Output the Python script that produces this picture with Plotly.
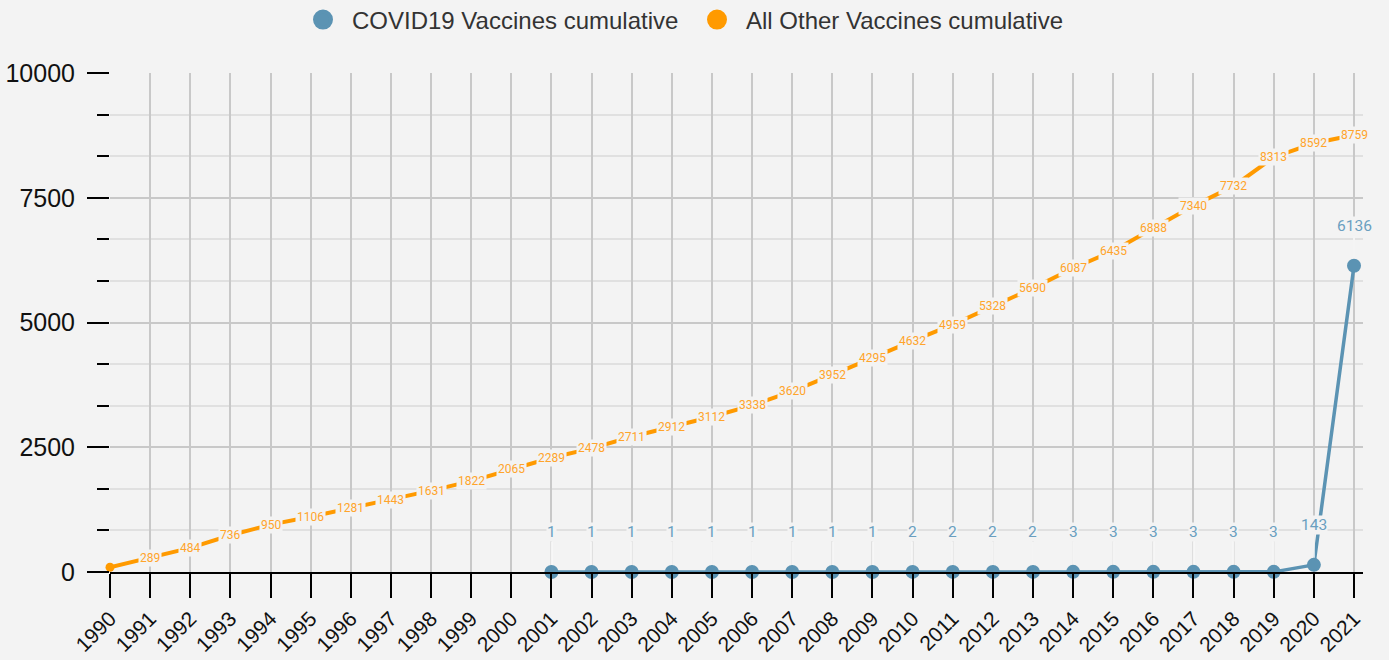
import plotly.graph_objects as go

years = list(range(1990, 2022))
other_cum = [96, 289, 484, 736, 950, 1106, 1281, 1443, 1631, 1822, 2065, 2289, 2478,
             2711, 2912, 3112, 3338, 3620, 3952, 4295, 4632, 4959, 5328, 5690, 6087,
             6435, 6888, 7340, 7732, 8313, 8592, 8759]
other_labels = [""] + [str(v) for v in other_cum[1:]]

covid_years = list(range(2001, 2022))
covid_cum = [1, 1, 1, 1, 1, 1, 1, 1, 1, 2, 2, 2, 2, 3, 3, 3, 3, 3, 3, 143, 6136]

series_names = ["COVID19 Vaccines cumulative", "All Other Vaccines cumulative"]
y_ticks = [0, 2500, 5000, 7500, 10000]
y_ticktext = ["0", "2500", "5000", "7500", "10000"]

BG = "#f3f3f3"
BLUE = "#5b93b3"
BLUE_TXT = "#6a9fc0"
ORANGE = "#ff9a00"
ORANGE_TXT = "#ffa42b"

fig = go.Figure()

fig.add_trace(go.Scatter(x=years, y=other_cum, mode="lines+markers",
                         line=dict(color=ORANGE, width=4), marker=dict(size=9, color=ORANGE),
                         showlegend=False, cliponaxis=False))
fig.add_trace(go.Scatter(x=covid_years, y=covid_cum, mode="lines+markers",
                         line=dict(color=BLUE, width=3.5), marker=dict(size=14, color=BLUE),
                         showlegend=False, cliponaxis=False))

# legend-only entries
for name, col in zip(series_names, [BLUE, ORANGE]):
    fig.add_trace(go.Scatter(x=[None], y=[None], mode="markers", name=name,
                             marker=dict(size=16, color=col, line=dict(width=4, color=col))))

annotations = []
for x, y, t in zip(years, other_cum, other_labels):
    if t:
        annotations.append(dict(x=x, y=y, text=t, showarrow=False, bgcolor=BG,
                                font=dict(family="Roboto", size=12, color=ORANGE_TXT),
                                borderpad=1))
for x, y in zip(covid_years, covid_cum):
    annotations.append(dict(x=x, y=y, text=str(y), showarrow=True, ax=0, ay=-40,
                            arrowhead=0, arrowwidth=2, arrowcolor="rgba(255,255,255,0.8)",
                            standoff=7, bgcolor=BG, borderpad=0,
                            font=dict(family="Roboto", size=15.5, color=BLUE_TXT)))

fig.update_layout(
    width=1389, height=660,
    paper_bgcolor=BG, plot_bgcolor=BG,
    margin=dict(l=110, r=26, t=73, b=88, autoexpand=False),
    annotations=annotations,
    legend=dict(orientation="h", x=294 / 1389, xref="container", xanchor="left",
                y=1 - 20 / 660, yref="container", yanchor="middle",
                font=dict(family="Liberation Sans, Arial", size=24, color="#333"),
                itemwidth=48, entrywidth=331, bgcolor="rgba(0,0,0,0)"),
    xaxis=dict(range=[1990, 2021.224], tickmode="array", tickvals=years,
               ticktext=[str(y) for y in years], tickangle=-45,
               tickfont=dict(family="Liberation Sans, Arial", size=21, color="#111"),
               showgrid=True, gridcolor="#c8c8c8", gridwidth=2,
               showline=True, linecolor="#000", linewidth=2,
               ticks="outside", ticklen=24, tickwidth=2, tickcolor="#000",
               zeroline=False),
    yaxis=dict(range=[0, 10000], tickmode="array", tickvals=y_ticks, ticktext=y_ticktext,
               tickfont=dict(family="Liberation Sans, Arial", size=25, color="#111"),
               showgrid=True, gridcolor="#c8c8c8", gridwidth=2,
               ticks="outside", ticklen=22, tickwidth=2, tickcolor="#000",
               ticklabelstandoff=7, zeroline=False, showline=False,
               minor=dict(tick0=0, dtick=2500 / 3, ticks="outside", ticklen=12,
                          tickwidth=2, tickcolor="#000", showgrid=True,
                          gridcolor="#e0e0e0", gridwidth=2)),
)

fig.write_html("out.html", config={"displayModeBar": False},
               post_script="document.body.style.margin='0';document.body.style.background='#f3f3f3';")
